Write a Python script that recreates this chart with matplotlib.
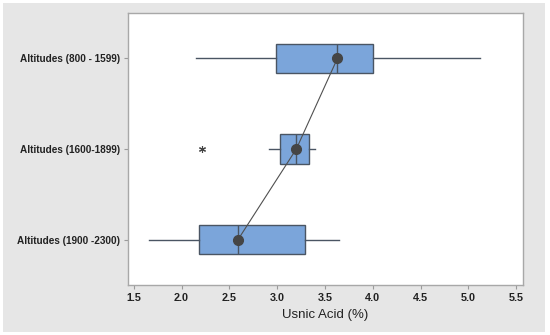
import numpy as np
import matplotlib.pyplot as plt
from matplotlib.patches import Rectangle

categories = ["Altitudes (800 - 1599)", "Altitudes (1600-1899)", "Altitudes (1900 -2300)"]
whislo = [2.15, 2.91, 1.66]
q1 = [2.99, 3.03, 2.18]
med = [3.63, 3.20, 2.59]
q3 = [4.00, 3.33, 3.29]
whishi = [5.12, 3.40, 3.65]
means = [3.63, 3.20, 2.59]
outliers = [[], [2.21], []]
xticks = [1.5, 2.0, 2.5, 3.0, 3.5, 4.0, 4.5, 5.0, 5.5]

sans = ["Liberation Sans", "DejaVu Sans"]

fig = plt.figure(figsize=(5.5, 3.35), dpi=100)
fig.patch.set_facecolor("white")
# grey panel with a thin white border round it
bg = Rectangle((3 / 550, 3 / 335), 542 / 550, 329 / 335,
               transform=fig.transFigure, facecolor="#e6e6e6",
               edgecolor="none", zorder=-10)
fig.add_artist(bg)

ax = fig.add_axes([128 / 550, 1 - 285 / 335, 395 / 550, 272 / 335])
ax.set_facecolor("white")

pos = np.arange(len(categories))
stats = []
for i in range(len(categories)):
    stats.append(dict(whislo=whislo[i], q1=q1[i], med=med[i], q3=q3[i],
                      whishi=whishi[i], fliers=outliers[i], mean=means[i]))

edge = "#4a5563"
ax.bxp(stats, positions=pos, widths=0.32, orientation="horizontal",
       patch_artist=True, showcaps=False, showmeans=False,
       boxprops=dict(facecolor="#7ba5da", edgecolor=edge, linewidth=1.0),
       medianprops=dict(color=edge, linewidth=1.0),
       whiskerprops=dict(color=edge, linewidth=1.0),
       flierprops=dict(marker=(6, 2, 0), markersize=5, markeredgecolor="#444444",
                       markeredgewidth=0.8, linestyle="none"))

ax.plot(means, pos, color="#505050", linewidth=0.8, zorder=4)
ax.plot(means, pos, "o", color="#454545", markersize=7, zorder=5)

ax.set_ylim(2.5, -0.5)
ax.set_xlim(1.44, 5.57)
ax.set_yticks(pos)
ax.set_yticklabels(categories, fontsize=7.2, fontweight="bold", color="#222222",
                   family=sans)
ax.set_xticks(xticks)
ax.set_xticklabels([f"{t:.1f}" for t in xticks], fontsize=7.8, fontweight="bold",
                   color="#222222", family=sans)
ax.tick_params(axis="both", length=3, color="#9a9a9a", pad=3)
for s in ax.spines.values():
    s.set_color("#a8a8a8")
    s.set_linewidth(1.0)
ax.set_xlabel("Usnic Acid (%)", fontsize=9.5, color="#222222", labelpad=4,
              family=sans)

fig.savefig("out.png", dpi=100, facecolor=fig.get_facecolor())
